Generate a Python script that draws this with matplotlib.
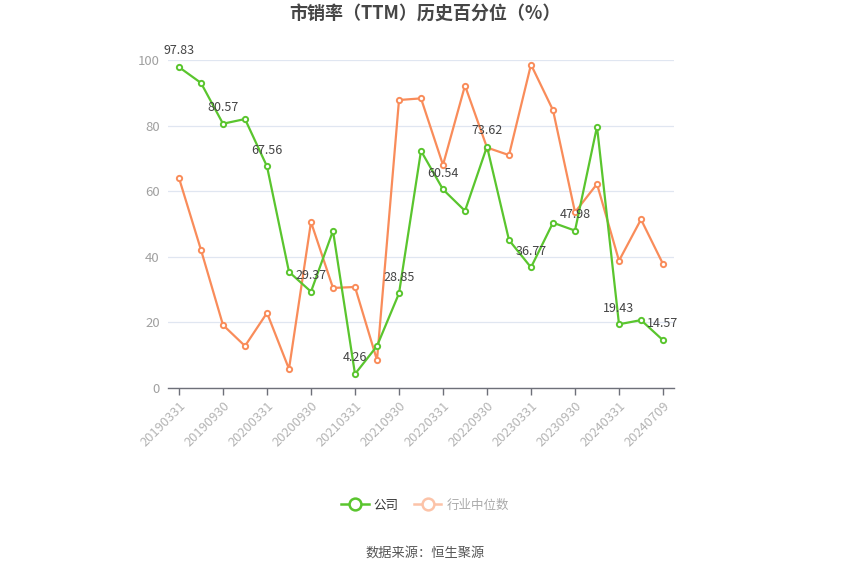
import matplotlib
matplotlib.use("Agg")
import matplotlib.pyplot as plt
from matplotlib.lines import Line2D

plt.rcParams['font.family'] = ['Noto Sans CJK SC', 'DejaVu Sans']

# quarterly report dates, last one is the latest trading day
dates = ['20190331', '20190630', '20190930', '20191231',
         '20200331', '20200630', '20200930', '20201231',
         '20210331', '20210630', '20210930', '20211231',
         '20220331', '20220630', '20220930', '20221231',
         '20230331', '20230630', '20230930', '20231231',
         '20240331', '20240630', '20240709']

company = [97.83, 93.0, 80.57, 82.0, 67.56, 35.4, 29.37, 47.9, 4.26, 12.8,
           28.85, 72.3, 60.54, 54.0, 73.62, 45.1, 36.77, 50.4, 47.98, 79.7,
           19.43, 20.7, 14.57]
industry = [64.0, 42.1, 19.2, 12.8, 22.9, 5.8, 50.6, 30.5, 30.8, 8.5,
            87.8, 88.3, 68.0, 92.2, 73.3, 71.0, 98.6, 84.7, 53.6, 62.2,
            38.8, 51.4, 37.8]

green = '#5AC52E'
orange = '#F98C5A'

fig = plt.figure(figsize=(8.5, 5.75), dpi=100)
ax = fig.add_axes([168 / 850, 1 - 388 / 575, 506 / 850, 328 / 575])

x = list(range(len(dates)))
ax.plot(x, industry, color=orange, lw=1.6, marker='o', ms=3.8,
        mfc='white', mec=orange, mew=1.4, zorder=3)
ax.plot(x, company, color=green, lw=1.6, marker='o', ms=3.8,
        mfc='white', mec=green, mew=1.4, zorder=4)

for i in range(0, len(dates), 2):
    ax.annotate(f'{company[i]:.2f}', (i, company[i]), xytext=(0, 7),
                textcoords='offset points', ha='center', va='bottom',
                fontsize=9, color='#444444', zorder=5)

ax.set_xlim(-0.5, len(dates) - 0.5)
ax.set_ylim(0, 100)
ax.set_yticks(range(0, 101, 20))
ax.yaxis.grid(True, color='#E0E6F1', lw=0.9)
ax.set_axisbelow(True)
ax.tick_params(axis='y', length=0, colors='#A0A0A0', labelsize=9.5, pad=6)

xt = list(range(0, len(dates), 2))
ax.set_xticks(xt)
ax.set_xticklabels([dates[i] for i in xt], rotation=45, ha='right',
                   rotation_mode='anchor', fontsize=9.3, color='#B4B4B4')
ax.tick_params(axis='x', length=5, color='#6E7079', width=1, pad=3)

for s in ['left', 'right', 'top']:
    ax.spines[s].set_visible(False)
ax.spines['bottom'].set_color('#6E7079')
ax.spines['bottom'].set_linewidth(1)

fig.text(0.5, 1 - 14 / 575, '市销率（TTM）历史百分位（%）', ha='center', va='center',
         fontsize=13, fontweight='bold', color='#464646')

handles = [
    Line2D([0], [0], color=green, lw=1.8, marker='o', ms=8.5, mfc='white',
           mec=green, mew=1.8),
    Line2D([0], [0], color='#FCC3A8', lw=1.8, marker='o', ms=8.5, mfc='white',
           mec='#FCC3A8', mew=1.8),
]
leg = fig.legend(handles, ['公司', '行业中位数'], loc='center',
                 bbox_to_anchor=(0.5, 1 - 505 / 575), ncol=2, frameon=False,
                 fontsize=9, handlelength=2.2, columnspacing=1.2,
                 handletextpad=0.4)
leg.get_texts()[0].set_color('#333333')
leg.get_texts()[1].set_color('#AAAAAA')

fig.text(0.5, 1 - 553 / 575, '数据来源：恒生聚源', ha='center', va='center',
         fontsize=9.5, color='#555555')

fig.savefig('out.png', dpi=100)
